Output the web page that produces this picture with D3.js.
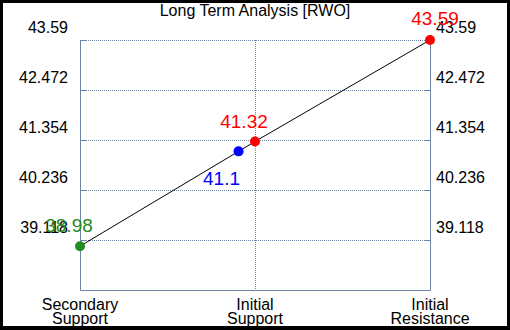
<!DOCTYPE html>
<html>
<head>
<meta charset="utf-8">
<script src="https://cdn.jsdelivr.net/npm/d3@7"></script>
<style>
  body { margin: 0; background: #000; }
  text { font-family: "Liberation Sans", Arial, sans-serif; }
</style>
</head>
<body>
<script>
const title = 'Long Term Analysis [RWO]';
const categories = [['Secondary', 'Support'], ['Initial', 'Support'], ['Initial', 'Resistance']];
const lineValues = [38.98, 41.32, 43.59];
const pointValues = [38.98, 41.1, 41.32, 43.59];
const pointColors = ['#228b22', '#0000ff', '#ff0000', '#ff0000'];
const tickValues = [39.118, 40.236, 41.354, 42.472, 43.59];
const yMin = 38.0;

// label offsets (style only)
const labelDx = [-11, -17, -11, 5];
const labelDy = [-14, 34, -14, -15];

const width = 510, height = 330;
const margin = { top: 40, right: 80, bottom: 40, left: 80 };
const gridColor = '#6f84a6';

const svg = d3.select('body').append('svg')
  .attr('width', width)
  .attr('height', height);

svg.append('rect').attr('width', width).attr('height', height).attr('fill', '#000');
svg.append('rect').attr('x', 3).attr('y', 3).attr('width', 504).attr('height', 323).attr('fill', '#fff');

const x = d3.scalePoint()
  .domain(d3.range(categories.length))
  .range([margin.left, width - margin.right]);

const y = d3.scaleLinear()
  .domain([yMin, d3.max(tickValues)])
  .range([height - margin.bottom, margin.top]);

const x0 = x.range()[0], x1 = x.range()[1];
const yb = y.range()[0], yt = y.range()[1];

// horizontal dotted gridlines
svg.append('g').selectAll('line')
  .data(tickValues)
  .join('line')
  .attr('x1', x0).attr('x2', x1)
  .attr('y1', d => y(d) + 0.5).attr('y2', d => y(d) + 0.5)
  .attr('stroke', gridColor)
  .attr('stroke-dasharray', '1,1');

// vertical dotted gridline in the middle
svg.append('line')
  .attr('x1', x(1) + 0.5).attr('x2', x(1) + 0.5)
  .attr('y1', yt).attr('y2', yb)
  .attr('stroke', gridColor)
  .attr('stroke-dasharray', '1,1');

// solid frame: left, right, bottom
svg.append('path')
  .attr('d', `M${x0 + 0.5},${yt}V${yb + 0.5}H${x1 + 0.5}V${yt}`)
  .attr('fill', 'none')
  .attr('stroke', gridColor);

// small tick marks
tickValues.forEach(t => {
  svg.append('line').attr('x1', x0).attr('x2', x0 + 6)
    .attr('y1', y(t) + 0.5).attr('y2', y(t) + 0.5).attr('stroke', gridColor);
  svg.append('line').attr('x1', x1 - 6).attr('x2', x1)
    .attr('y1', y(t) + 0.5).attr('y2', y(t) + 0.5).attr('stroke', gridColor);
});

// y tick labels, left and right
svg.append('g').selectAll('text')
  .data(tickValues)
  .join('text')
  .attr('x', x0 - 12)
  .attr('y', d => y(d) - 7)
  .attr('text-anchor', 'end')
  .attr('font-size', '16px')
  .text(d => d);

svg.append('g').selectAll('text')
  .data(tickValues)
  .join('text')
  .attr('x', x1 + 6)
  .attr('y', d => y(d) - 7)
  .attr('text-anchor', 'start')
  .attr('font-size', '16px')
  .text(d => d);

// category labels
categories.forEach((c, i) => {
  const t = svg.append('text')
    .attr('text-anchor', 'middle')
    .attr('font-size', '16px');
  c.forEach((s, j) => {
    t.append('tspan')
      .attr('x', x(i))
      .attr('y', 310 + j * 14)
      .text(s);
  });
});

// title
svg.append('text')
  .attr('x', width / 2)
  .attr('y', 16)
  .attr('text-anchor', 'middle')
  .attr('font-size', '16px')
  .text(title);

// line
const line = d3.line()
  .x((d, i) => x(i))
  .y(d => y(d));

svg.append('path')
  .datum(lineValues)
  .attr('d', line)
  .attr('fill', 'none')
  .attr('stroke', '#000')
  .attr('stroke-width', 1);

// x position of a value along the line (for the point between categories)
const xOnLine = v => {
  for (let i = 0; i < lineValues.length - 1; i++) {
    const a = lineValues[i], b = lineValues[i + 1];
    if (v >= a && v <= b) {
      return x(i) + (v - a) / (b - a) * (x(i + 1) - x(i));
    }
  }
  return x(lineValues.length - 1);
};
const pointX = (v, i) => {
  const k = lineValues.indexOf(v);
  return k >= 0 ? x(k) : xOnLine(v);
};

svg.append('g').selectAll('circle')
  .data(pointValues)
  .join('circle')
  .attr('cx', (d, i) => pointX(d, i))
  .attr('cy', d => y(d))
  .attr('r', 5)
  .attr('fill', (d, i) => pointColors[i]);

svg.append('g').selectAll('text')
  .data(pointValues)
  .join('text')
  .attr('x', (d, i) => pointX(d, i) + labelDx[i])
  .attr('y', (d, i) => y(d) + labelDy[i])
  .attr('text-anchor', 'middle')
  .attr('font-size', '19px')
  .attr('fill', (d, i) => pointColors[i])
  .text(d => d);
</script>
</body>
</html>
